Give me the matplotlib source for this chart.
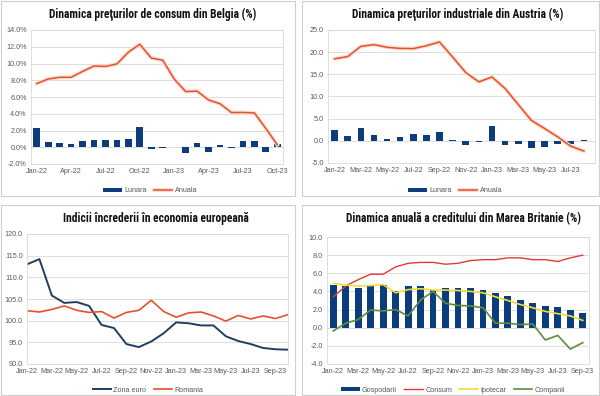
import matplotlib
matplotlib.use("Agg")
import matplotlib.pyplot as plt
import matplotlib.patheffects as pe
from matplotlib import font_manager
from matplotlib.patches import Rectangle
from matplotlib.ticker import FixedLocator, FuncFormatter

# -- Data ---------------------------------------------------------------------

months = ["Jan", "Feb", "Mar", "Apr", "May", "Jun",
          "Jul", "Aug", "Sep", "Oct", "Nov", "Dec"]
labels_2y = [f"{m}-22" for m in months] + [f"{m}-23" for m in months]

# Belgia, Jan-22 .. Oct-23
be_lunara = [2.25, 0.6, 0.55, 0.35, 0.75, 0.85, 0.85, 0.85, 0.95, 2.4, -0.2, -0.1,
             0.05, -0.65, 0.55, -0.6, 0.3, -0.1, 0.75, 0.75, -0.6, 0.35]
be_anuala = [7.6, 8.15, 8.35, 8.35, 9.05, 9.7, 9.65, 9.95, 11.35, 12.3, 10.65, 10.4,
             8.15, 6.65, 6.7, 5.65, 5.2, 4.15, 4.15, 4.1, 2.25, 0.3]

# Austria, Jan-22 .. Aug-23
at_lunara = [2.4, 1.1, 2.8, 1.35, 0.45, 0.8, 1.6, 1.4, 1.9, 0.1, -1.0, -0.25,
             3.45, -1.05, -0.8, -1.6, -1.3, -0.7, -0.7, 0.3]
at_anuala = [18.5, 19.0, 21.3, 21.7, 21.1, 20.85, 20.8, 21.45, 22.3, 18.9, 15.4, 13.3,
             14.4, 11.8, 8.2, 4.6, 2.8, 0.9, -1.2, -2.3]

# Indicii increderii, Jan-22 .. Oct-23
zona_euro = [113.0, 114.2, 105.8, 104.1, 104.3, 103.4, 99.0, 98.3, 94.6, 93.9, 95.2, 97.1,
             99.6, 99.4, 98.9, 98.9, 96.4, 95.3, 94.6, 93.7, 93.4, 93.3]
romania = [102.3, 102.0, 102.6, 103.4, 102.4, 101.9, 102.1, 100.6, 101.9, 102.4, 104.7, 102.1,
           100.8, 101.8, 102.0, 101.1, 99.9, 101.2, 100.4, 101.1, 100.5, 101.4]

# Marea Britanie, Jan-22 .. Sep-23
gospodarii = [4.7, 4.6, 4.4, 4.6, 4.7, 4.05, 4.55, 4.55, 4.2, 4.4, 4.4, 4.35,
              4.15, 3.85, 3.5, 3.1, 2.7, 2.4, 2.25, 1.9, 1.6]
consum = [3.4, 4.6, 5.3, 5.9, 5.9, 6.7, 7.1, 7.2, 7.2, 7.0, 7.1, 7.4,
          7.5, 7.5, 7.7, 7.7, 7.5, 7.5, 7.3, 7.7, 8.0]
ipotecar = [4.9, 4.7, 4.6, 4.65, 4.75, 3.85, 4.2, 4.3, 4.15, 4.15, 4.1, 4.0,
            3.85, 3.4, 3.0, 2.55, 2.2, 1.8, 1.55, 1.3, 0.8]
companii = [-0.35, 0.5, 0.9, 1.95, 1.85, 2.0, 1.3, 3.05, 4.0, 2.7, 2.45, 2.4,
            2.2, 0.5, 0.5, 0.35, 0.4, -1.35, -0.85, -2.35, -1.65]

# -- Style --------------------------------------------------------------------

W, H = 600, 396
BLUE = "#0b3c7c"
ORANGE = "#e8502d"
GLOW = "#fbdccf"
NAVY = "#1e3f63"
GRID = "#d9d9d9"
TXT = "#595959"

# pick a narrow face for the titles if one is around
installed = {f.name for f in font_manager.fontManager.ttflist}
narrow = [n for n in ("Liberation Sans Narrow", "Roboto Condensed", "Open Sans Condensed",
                      "DejaVu Sans Condensed", "Noto Sans Display") if n in installed]
TITLE_FONT = (narrow[:1] or ["Roboto"]) + ["DejaVu Sans"]
TITLE_SIZE = 8.3 if narrow else 7.0

plt.rcParams["font.family"] = ["Liberation Sans", "DejaVu Sans"]

fig = plt.figure(figsize=(W / 100, H / 100), dpi=100)


def px_axes(x0, y0, x1, y1):
    """Axes from pixel box (top-left origin)."""
    return fig.add_axes([x0 / W, 1 - y1 / H, (x1 - x0) / W, (y1 - y0) / H])


def frame(x0, y0, x1, y1):
    fig.add_artist(Rectangle((x0 / W, 1 - y1 / H), (x1 - x0) / W, (y1 - y0) / H,
                             transform=fig.transFigure, fill=False,
                             edgecolor="#cfcfcf", linewidth=0.8))


def style(ax, ylim, step, fmt, labels, every):
    ax.set_ylim(*ylim)
    ticks = [ylim[0] + i * step for i in range(int(round((ylim[1] - ylim[0]) / step)) + 1)]
    ax.yaxis.set_major_locator(FixedLocator(ticks))
    ax.yaxis.set_major_formatter(FuncFormatter(lambda v, p: fmt.format(v)))
    ax.set_xticks(range(0, len(labels), every))
    ax.set_xticklabels(labels[::every])
    ax.grid(axis="y", color=GRID, linewidth=0.6)
    ax.set_axisbelow(True)
    for s in ax.spines.values():
        s.set_color(GRID)
        s.set_linewidth(0.6)
    ax.tick_params(length=0, labelsize=5.2, labelcolor=TXT, pad=3)


def title(x, y, text):
    fig.text(x / W, 1 - y / H, text, ha="center", va="center", fontsize=TITLE_SIZE,
             fontweight="bold", family=TITLE_FONT, color="#111111")


def legend(ax, handles, x, y):
    ax.legend(handles=handles, loc="center", bbox_to_anchor=(x / W, 1 - y / H),
              bbox_transform=fig.transFigure, ncol=len(handles), frameon=False,
              fontsize=5.2, labelcolor=TXT, handlelength=2.6, handleheight=0.55,
              columnspacing=1.0, handletextpad=0.3)


glow = [pe.Stroke(linewidth=2.8, foreground=GLOW), pe.Normal()]

# -- Panel frames -------------------------------------------------------------

frame(1, 1, 295, 196)
frame(302, 1, 599, 196)
frame(1, 205, 295, 395)
frame(302, 205, 599, 395)

# -- Belgia -------------------------------------------------------------------

x1 = range(len(be_anuala))
ax = px_axes(31, 30, 283, 164)
b = ax.bar(x1, be_lunara, width=0.58, color=BLUE, label="Lunara")
l, = ax.plot(x1, be_anuala, color=ORANGE, linewidth=1.1, label="Anuala", path_effects=glow)
ax.set_xlim(-0.5, len(be_anuala) - 0.5)
style(ax, (-2, 14), 2, "{:.1f}%", labels_2y[:len(be_anuala)], 3)
title(153, 14, "Dinamica preţurilor de consum din Belgia (%)")
legend(ax, [b, l], 150, 191)

# -- Austria ------------------------------------------------------------------

x2 = range(len(at_anuala))
ax = px_axes(328, 30, 595, 163)
b = ax.bar(x2, at_lunara, width=0.5, color=BLUE, label="Lunara")
l, = ax.plot(x2, at_anuala, color=ORANGE, linewidth=1.1, label="Anuala", path_effects=glow)
ax.set_xlim(-0.5, len(at_anuala) - 0.5 + 0.35)
style(ax, (-5, 25), 5, "{:.1f}", labels_2y[:len(at_anuala)], 2)
title(458, 14, "Dinamica preţurilor industriale din Austria (%)")
legend(ax, [b, l], 455, 191)

# -- Indicii increderii -------------------------------------------------------

x3 = range(len(zona_euro))
ax = px_axes(27, 234, 288, 364)
l1, = ax.plot(x3, zona_euro, color=NAVY, linewidth=1.4, label="Zona euro")
l2, = ax.plot(x3, romania, color=ORANGE, linewidth=1.2, label="Romania")
ax.set_xlim(0, len(zona_euro) - 1)
style(ax, (90, 120), 5, "{:.1f}", labels_2y[:len(zona_euro)], 2)
title(156, 219, "Indicii încrederii în economia europeană")
legend(ax, [l1, l2], 148, 390)

# -- Marea Britanie -----------------------------------------------------------

x4 = range(len(gospodarii))
ax = px_axes(327, 237, 589, 364)
b = ax.bar(x4, gospodarii, width=0.55, color=BLUE, label="Gospodarii")
l1, = ax.plot(x4, consum, color="#e23a2e", linewidth=1.0, label="Consum")
l2, = ax.plot(x4, ipotecar, color="#f2dc3a", linewidth=1.2, label="Ipotecar")
l3, = ax.plot(x4, companii, color="#5e8c3c", linewidth=1.2, label="Companii")
ax.set_xlim(-0.5, len(gospodarii) - 0.5)
style(ax, (-4, 10), 2, "{:.1f}", labels_2y[:len(gospodarii)], 2)
title(464, 219, "Dinamica anuală a creditului din Marea Britanie (%)")
legend(ax, [b, l1, l2, l3], 453, 390)

fig.savefig("out.png", dpi=100, facecolor="white")
